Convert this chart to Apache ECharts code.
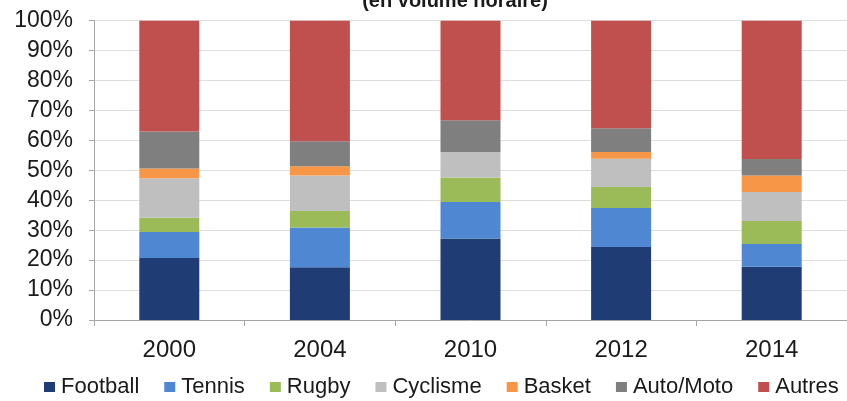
<!DOCTYPE html>
<html><head><meta charset="utf-8">
<script src="https://cdn.jsdelivr.net/npm/echarts@6/dist/echarts.min.js"></script>
<style>html,body{margin:0;padding:0;background:#fff}#c{width:847px;height:401px}</style>
</head><body><div id="c"></div>
<script>
const years = ['2000', '2004', '2010', '2012', '2014'];
const football = [20.7, 17.6, 27.2, 24.4, 17.8];
const tennis   = [8.7, 13.3, 12.2, 13.0, 7.6];
const rugby    = [4.8, 5.5, 8.2, 7.0, 7.7];
const cyclisme = [13.2, 11.9, 8.5, 9.5, 9.7];
const basket   = [3.2, 3.1, 0, 2.2, 5.5];
const autoMoto = [12.4, 8.3, 10.6, 8.0, 5.5];
const autres   = [37.0, 40.3, 33.3, 35.9, 46.2];
const yTicks = [0, 10, 20, 30, 40, 50, 60, 70, 80, 90, 100];
const subtitle = '(en volume horaire)';

const seriesDefs = [
  ['Football', football, '#1f3d74'],
  ['Tennis', tennis, '#4f87d2'],
  ['Rugby', rugby, '#9bbb59'],
  ['Cyclisme', cyclisme, '#bfbfbf'],
  ['Basket', basket, '#f79646'],
  ['Auto/Moto', autoMoto, '#7f7f7f'],
  ['Autres', autres, '#c0504d']
];
const font = '"Liberation Sans", Arial, sans-serif';
const chart = echarts.init(document.getElementById('c'), null, {renderer: 'canvas'});
chart.setOption({
  animation: false,
  graphic: [{
    type: 'text',
    style: {x: 455, y: 11, text: subtitle, font: 'bold 20px ' + font, fill: '#1a1a1a', textAlign: 'center', textVerticalAlign: 'bottom'}
  }],
  legend: {
    left: 44, top: 376, width: 803,
    itemWidth: 11, itemHeight: 10, itemGap: 25,
    icon: 'rect',
    padding: 0,
    textStyle: {fontFamily: font, fontSize: 22, color: '#1a1a1a', padding: [0, 0, 0, 1]},
    data: seriesDefs.map(d => d[0])
  },
  grid: {left: 94, top: 20.7, width: 758, height: 299.3, containLabel: false},
  xAxis: {
    type: 'category', data: years,
    axisLine: {lineStyle: {color: '#a6a6a6', width: 1}},
    axisTick: {show: true, length: 6, lineStyle: {color: '#a6a6a6'}},
    axisLabel: {fontFamily: font, fontSize: 24, color: '#1a1a1a', margin: 18}
  },
  yAxis: {
    type: 'value', min: 0, max: 100, interval: 10,
    axisLine: {show: true, lineStyle: {color: '#a6a6a6', width: 1}},
    axisTick: {show: true, length: 5, lineStyle: {color: '#a6a6a6'}},
    splitLine: {lineStyle: {color: '#dedede', width: 1}},
    axisLabel: {fontFamily: font, fontSize: 23, color: '#1a1a1a', margin: 21,
      formatter: v => (yTicks.indexOf(v) >= 0 ? v + '%' : '')}
  },
  series: seriesDefs.map(d => ({
    name: d[0], type: 'bar', stack: 'total', data: d[1], barWidth: 60,
    itemStyle: {color: d[2]}
  }))
});
</script></body></html>
